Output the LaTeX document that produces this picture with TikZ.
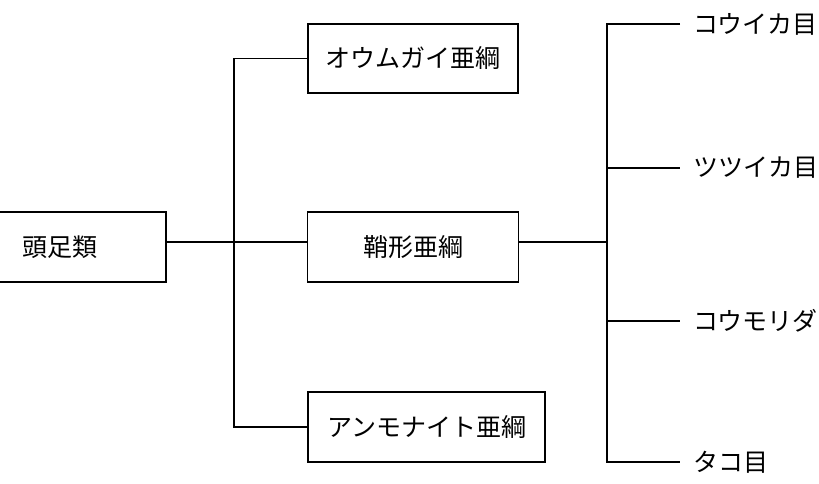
\documentclass[tikz,border=0pt]{standalone}
\usepackage{fontspec}
\newfontfamily\cjk{Noto Sans CJK JP}
\begin{document}
\begin{tikzpicture}[x=1pt,y=-1pt,
  every node/.style={font=\cjk\fontsize{25}{29}\selectfont},
  taxbox/.style={draw, line width=1.9pt, minimum height=70pt, inner sep=0pt},
  leaf/.style={anchor=west, inner xsep=13pt, inner ysep=0pt},
  conn/.style={line width=1.9pt}]
\useasboundingbox (0,0) rectangle (819,484);
\clip (0,0) rectangle (819,484);
\fill[white] (0,0) rectangle (819,484);
% boxes
\node[taxbox, minimum width=211pt] (L) at (60.5,247) {頭足類};
\node[taxbox, minimum width=210pt, minimum height=69pt] (A) at (413,58.5) {オウムガイ亜綱};
\node[taxbox, minimum width=211pt] (M) at (413,247) {鞘形亜綱};
\node[taxbox, minimum width=237pt] (B) at (426.5,427) {アンモナイト亜綱};
% leaves
\node[leaf] (l1) at (680,24) {コウイカ目};
\node[leaf] (l2) at (680,168) {ツツイカ目};
\node[leaf] (l3) at (680,321) {コウモリダ};
\node[leaf] (l4) at (680,462) {タコ目};
% junctions
\coordinate (jl) at (234,242);
\coordinate (jr) at (607,242);
% left tree
\draw[conn] (L.east |- jl) -- (M.west |- jl);
\draw[conn] (A.west) -| (jl) |- (B.west);
% right tree
\draw[conn] (M.east |- jr) -- (jr);
\draw[conn] (l1.west) -| (jr) |- (l4.west);
\draw[conn] (jr |- l2.west) -- (l2.west);
\draw[conn] (jr |- l3.west) -- (l3.west);
\end{tikzpicture}
\end{document}
